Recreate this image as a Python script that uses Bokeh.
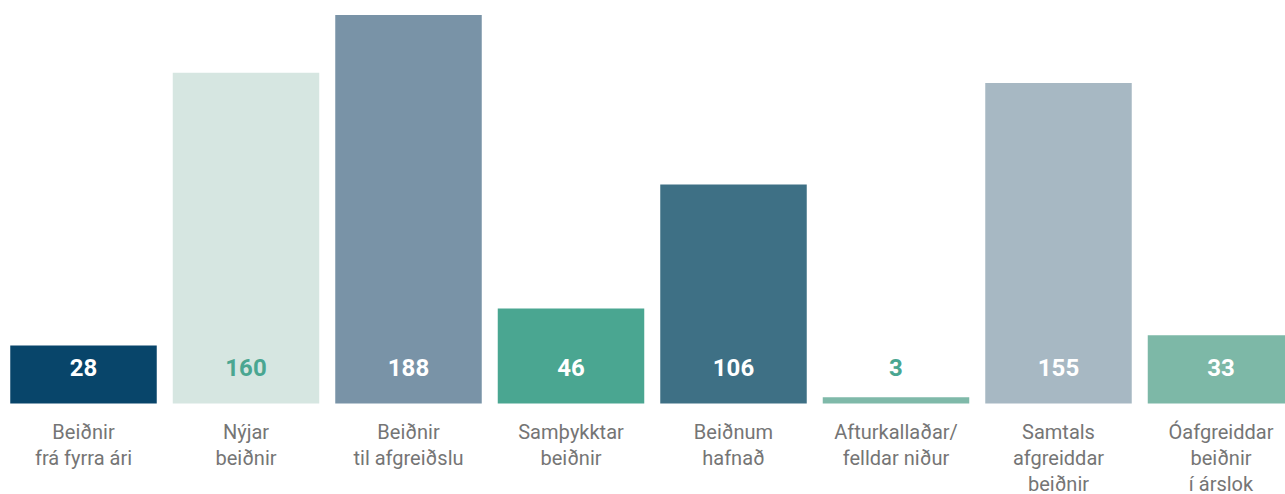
from bokeh.plotting import figure
from bokeh.models import ColumnDataSource, Range1d
from bokeh.core.properties import value
from bokeh.embed import file_html
from bokeh.resources import INLINE

categories = [
    "Beiðnir\nfrá fyrra ári",
    "Nýjar\nbeiðnir",
    "Beiðnir\ntil afgreiðslu",
    "Samþykktar\nbeiðnir",
    "Beiðnum\nhafnað",
    "Afturkallaðar/\nfelldar niður",
    "Samtals\nafgreiddar\nbeiðnir",
    "Óafgreiddar\nbeiðnir\ní árslok",
]
values = [28, 160, 188, 46, 106, 3, 155, 33]
bar_colors = ["#08456a", "#d6e6e1", "#7993a7", "#4aa691", "#3e7085", "#7fb9a9", "#a7b8c3", "#7db8a7"]
label_colors = ["#ffffff", "#4aa691", "#ffffff", "#ffffff", "#ffffff", "#4aa691", "#ffffff", "#ffffff"]

xs = list(range(len(values)))
src = ColumnDataSource(dict(
    x=xs, top=values, color=bar_colors, lcolor=label_colors,
    vtext=[str(v) for v in values], cat=categories, zero=[0] * len(values),
))

px_per_cat = 162.5
W, H = 1285, 494
x_start = -83 / px_per_cat
x_end = x_start + W / px_per_cat
px_per_unit = 2.067
base_px = 403
y_end = base_px / px_per_unit
y_start = -(H - base_px) / px_per_unit

p = figure(width=W, height=H, output_backend="svg", toolbar_location=None,
           x_range=Range1d(x_start, x_end), y_range=Range1d(y_start, y_end),
           min_border=0, outline_line_color=None, background_fill_color="white",
           border_fill_color="white")
p.axis.visible = False
p.grid.visible = False

p.vbar(x="x", top="top", bottom=0, width=146.5 / px_per_cat, color="color",
       line_color=None, source=src)

p.text(x="x", y="zero", text="vtext", source=src, text_color="lcolor",
       text_font=value("Roboto"), text_font_style="bold", text_font_size="24px",
       text_align="center", text_baseline="middle", y_offset=-36)

p.text(x="x", y="zero", text="cat", source=src, text_color="#757575",
       text_font=value("Roboto"), text_font_size="20px", text_align="center",
       text_baseline="top", y_offset=16, text_line_height=1.1)

open("out.html", "w").write(file_html(p, INLINE))
